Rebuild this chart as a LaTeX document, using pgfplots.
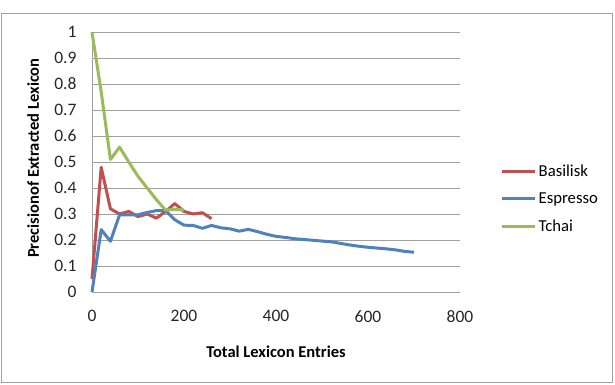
\documentclass[border=0pt]{standalone}
\usepackage{pgfplots}
\pgfplotsset{compat=1.18}
\usepackage{fontspec}
\setmainfont{Carlito}
\definecolor{exred}{HTML}{C0504D}
\definecolor{exblue}{HTML}{4F81BD}
\definecolor{exgreen}{HTML}{9BBB59}
\definecolor{gridgray}{HTML}{A0A0A0}
\begin{document}
\begin{tikzpicture}[x=1pt,y=1pt]
\useasboundingbox (0,0) rectangle (615,384);
\draw[gridgray, line width=1pt] (1,2) rectangle (612.5,370);
\begin{axis}[
  at={(92pt,92pt)}, anchor=south west,
  scale only axis, width=368pt, height=260pt,
  xmin=0, xmax=800, ymin=0, ymax=1,
  xtick={0,200,400,600,800},
  ytick={0,0.1,0.2,0.3,0.4,0.5,0.6,0.7,0.8,0.9,1},
  yticklabels={0,0.1,0.2,0.3,0.4,0.5,0.6,0.7,0.8,0.9,1},
  axis x line*=bottom, axis y line*=left,
  axis line style={gridgray, line width=0.9pt, -},
  ymajorgrids, grid style={gridgray, line width=0.9pt},
  major tick length=0pt,
  tick label style={font=\fontsize{17.5}{20}\selectfont, text=black!85},
  /pgf/number format/assume math mode=true,
  xticklabel style={yshift=-15pt},
  yticklabel style={xshift=-12pt},
  xlabel={\textbf{Total Lexicon Entries}},
  ylabel={\textbf{Precisionof Extracted Lexicon}},
  label style={font=\fontsize{16.5}{19}\selectfont},
  xlabel style={at={(axis description cs:0.5,0)}, anchor=base, yshift=-65pt},
  ylabel style={at={(axis description cs:-0.160,0.515)}, anchor=center},
  clip=false,
  legend style={draw=none, at={(1.11,0.358)}, anchor=west,
    font=\fontsize{16.7}{19}\selectfont, row sep=11pt, inner sep=0pt},
  legend cell align=left,
  legend image code/.code={\draw[#1, line width=3pt] (0pt,0pt) -- (33pt,0pt);},
  every axis plot/.append style={line width=3pt, line join=round},
]
\addplot[exred] coordinates {
(0,0.05) (20,0.48) (40,0.32) (60,0.30) (80,0.31) (100,0.29) (120,0.30)
(140,0.284) (160,0.31) (180,0.34) (200,0.31) (220,0.30) (240,0.305) (260,0.282)
};
\addlegendentry{Basilisk}
\addplot[exblue] coordinates {
(0,0) (20,0.24) (40,0.195) (60,0.297) (80,0.297) (100,0.297) (120,0.306)
(140,0.313) (160,0.313) (180,0.278) (200,0.257) (220,0.256) (240,0.245)
(260,0.256) (280,0.247) (300,0.243) (320,0.234) (340,0.241) (360,0.232)
(380,0.222) (400,0.214) (420,0.210) (440,0.205) (460,0.202) (480,0.199)
(500,0.196) (520,0.193) (540,0.187) (560,0.181) (580,0.176) (600,0.172)
(620,0.169) (640,0.166) (660,0.162) (680,0.156) (700,0.153)
};
\addlegendentry{Espresso}
\addplot[exgreen] coordinates {
(0,1.0) (20,0.77) (40,0.51) (60,0.557) (80,0.50) (100,0.445) (120,0.40)
(140,0.355) (160,0.315) (180,0.318) (200,0.316)
};
\addlegendentry{Tchai}
\end{axis}
\end{tikzpicture}
\end{document}
